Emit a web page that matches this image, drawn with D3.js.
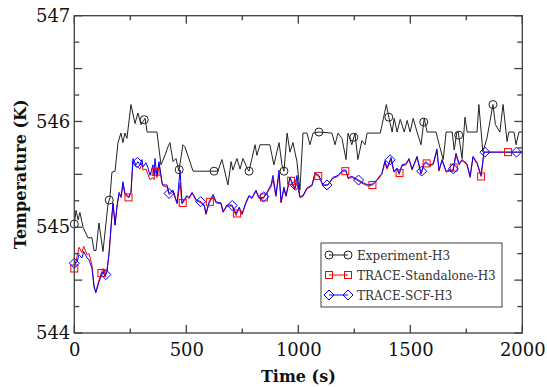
<!DOCTYPE html>
<html><head><meta charset="utf-8">
<script src="https://cdn.jsdelivr.net/npm/d3@7"></script>
<style>body{margin:0;background:#fff}svg{display:block}</style>
</head><body><svg id="c" width="547" height="387"></svg>
<script>
const seriesNames = ["Experiment-H3", "TRACE-Standalone-H3", "TRACE-SCF-H3"];
const xTicks = [0, 500, 1000, 1500, 2000];
const yTicks = [544, 545, 546, 547];

const experiment = [[0,545.03],[8,545.16],[17,545.07],[25,545.14],[39,545.00],[61,544.90],[79,544.90],[88,544.78],[97,544.78],[110,545.04],[128,544.77],[150,545.21],[159,545.28],[168,545.52],[182,545.53],[195,545.80],[208,545.89],[217,545.80],[226,545.89],[235,545.84],[253,546.16],[271,545.98],[284,546.08],[298,545.97],[316,546.03],[325,545.90],[369,545.90],[387,545.59],[405,545.68],[418,545.76],[427,545.80],[441,545.62],[454,545.65],[467,545.53],[485,545.78],[494,545.76],[530,545.53],[641,545.53],[659,545.64],[668,545.56],[686,545.40],[700,545.62],[708,545.54],[726,545.65],[740,545.55],[753,545.65],[771,545.56],[780,545.53],[793,545.65],[807,545.78],[815,545.68],[829,545.78],[873,545.78],[891,545.59],[914,545.80],[927,545.59],[936,545.53],[950,545.89],[963,545.71],[976,545.80],[994,545.62],[1007,545.35],[1021,545.89],[1039,545.89],[1052,545.78],[1066,545.89],[1092,545.90],[1150,545.89],[1164,545.78],[1177,545.89],[1195,545.84],[1213,545.64],[1222,545.89],[1239,545.78],[1253,545.89],[1266,545.64],[1284,545.82],[1298,545.78],[1307,545.89],[1366,545.89],[1393,546.16],[1405,546.03],[1419,545.90],[1428,546.03],[1441,545.90],[1455,546.02],[1473,545.90],[1486,546.01],[1499,545.90],[1513,546.03],[1530,545.90],[1548,545.78],[1562,546.03],[1575,545.90],[1615,545.90],[1629,545.78],[1647,545.64],[1660,545.90],[1687,545.90],[1696,545.73],[1708,545.90],[1714,545.90],[1731,545.65],[1744,546.04],[1754,545.90],[1798,545.90],[1806,546.16],[1824,545.71],[1842,545.84],[1869,546.16],[1880,545.97],[1900,545.90],[1914,546.16],[1932,545.81],[1940,545.90],[1963,545.90],[1972,545.78],[1985,545.90],[2000,545.90]];

const standalone = [[0,544.61],[12,544.72],[21,544.81],[34,544.76],[42,544.82],[57,544.74],[66,544.75],[79,544.64],[88,544.43],[96,544.39],[110,544.50],[128,544.61],[137,544.55],[146,544.60],[155,544.74],[168,545.10],[173,545.22],[182,545.02],[191,545.20],[200,545.31],[209,545.28],[217,545.40],[226,545.31],[235,545.29],[244,545.28],[253,545.33],[262,545.62],[275,545.57],[284,545.57],[293,545.55],[302,545.60],[307,545.54],[320,545.55],[329,545.50],[338,545.45],[351,545.47],[356,545.45],[360,545.55],[369,545.47],[378,545.60],[392,545.41],[396,545.39],[414,545.38],[423,545.31],[441,545.33],[459,545.22],[472,545.42],[481,545.22],[503,545.29],[512,545.27],[526,545.32],[544,545.25],[566,545.23],[580,545.20],[588,545.12],[602,545.23],[620,545.29],[633,545.23],[655,545.22],[664,545.14],[682,545.20],[704,545.20],[722,545.11],[736,545.18],[749,545.12],[767,545.23],[780,545.29],[793,545.27],[811,545.34],[825,545.27],[843,545.27],[860,545.32],[878,545.38],[887,545.45],[900,545.29],[914,545.50],[923,545.23],[936,545.36],[945,545.29],[963,545.47],[976,545.39],[985,545.36],[994,545.42],[1007,545.28],[1021,545.29],[1038,545.36],[1061,545.39],[1074,545.50],[1092,545.48],[1110,545.39],[1132,545.40],[1154,545.46],[1177,545.48],[1199,545.53],[1213,545.53],[1222,545.46],[1240,545.47],[1266,545.44],[1289,545.41],[1311,545.39],[1333,545.40],[1351,545.44],[1373,545.50],[1387,545.61],[1396,545.55],[1414,545.64],[1427,545.52],[1441,545.55],[1450,545.50],[1463,545.58],[1481,545.59],[1494,545.64],[1508,545.54],[1530,545.66],[1548,545.50],[1561,545.59],[1570,545.61],[1584,545.58],[1602,545.59],[1619,545.72],[1628,545.53],[1642,545.63],[1660,545.52],[1673,545.53],[1691,545.53],[1704,545.68],[1718,545.59],[1731,545.63],[1753,545.59],[1767,545.47],[1780,545.66],[1798,545.60],[1816,545.48],[1829,545.71],[2000,545.71]];

const scf = [[0,544.66],[12,544.67],[21,544.74],[34,544.71],[42,544.77],[57,544.71],[66,544.69],[79,544.61],[88,544.45],[96,544.38],[110,544.48],[128,544.58],[137,544.53],[146,544.58],[155,544.76],[168,545.12],[173,545.23],[182,545.02],[191,545.21],[200,545.33],[209,545.29],[217,545.43],[226,545.33],[235,545.30],[244,545.29],[253,545.33],[262,545.65],[275,545.59],[284,545.62],[293,545.59],[302,545.64],[307,545.57],[320,545.61],[329,545.56],[338,545.49],[351,545.59],[356,545.49],[360,545.65],[369,545.49],[378,545.62],[392,545.42],[396,545.40],[414,545.40],[423,545.32],[441,545.35],[459,545.23],[472,545.54],[481,545.23],[503,545.30],[512,545.28],[526,545.33],[544,545.26],[566,545.24],[580,545.21],[588,545.13],[602,545.24],[620,545.31],[633,545.24],[655,545.23],[664,545.15],[682,545.21],[704,545.21],[722,545.13],[736,545.19],[749,545.13],[767,545.24],[780,545.30],[793,545.28],[811,545.35],[825,545.28],[843,545.28],[860,545.33],[878,545.40],[887,545.49],[900,545.30],[914,545.54],[923,545.24],[936,545.38],[945,545.30],[963,545.47],[976,545.40],[985,545.37],[994,545.49],[1007,545.29],[1021,545.30],[1038,545.37],[1061,545.40],[1074,545.51],[1092,545.49],[1110,545.40],[1132,545.40],[1154,545.47],[1177,545.49],[1199,545.54],[1213,545.54],[1222,545.47],[1240,545.48],[1266,545.45],[1289,545.42],[1311,545.40],[1333,545.41],[1351,545.45],[1373,545.51],[1387,545.63],[1396,545.56],[1414,545.66],[1427,545.53],[1441,545.56],[1450,545.51],[1463,545.59],[1481,545.60],[1494,545.65],[1508,545.55],[1530,545.67],[1548,545.51],[1561,545.60],[1570,545.62],[1584,545.59],[1602,545.60],[1619,545.74],[1628,545.54],[1642,545.64],[1660,545.53],[1673,545.54],[1691,545.54],[1704,545.70],[1718,545.60],[1731,545.64],[1753,545.60],[1767,545.48],[1780,545.67],[1798,545.61],[1816,545.49],[1829,545.71],[2000,545.71]];

const expMarkerTimes = [0,156,312,468,624,780,936,1092,1248,1404,1560,1716,1869];
const saMarkerTimes = [0,121,242,363,484,605,726,847,968,1089,1210,1331,1452,1573,1694,1816,1936];
const scfMarkerTimes = [0,141,282,423,564,705,846,987,1128,1269,1410,1551,1692,1833,1974];

const svg = d3.select("#c");
const m = {l:74.3, r:522.3, t:15.7, b:333};
const x = d3.scaleLinear().domain([0,2000]).range([m.l, m.r]);
const y = d3.scaleLinear().domain([544,547]).range([m.b, m.t]);
const axisColor = "#404040";
const serif = "DejaVu Serif";

svg.append("defs").append("clipPath").attr("id","clip")
  .append("rect").attr("x",m.l).attr("y",m.t).attr("width",m.r-m.l).attr("height",m.b-m.t);

const line = d3.line().x(d=>x(d[0])).y(d=>y(d[1]));
function interp(data, t){
  const i = d3.bisector(d=>d[0]).left(data, t);
  if (i<=0) return data[0][1];
  if (i>=data.length) return data[data.length-1][1];
  const a=data[i-1], b=data[i];
  return a[1] + (b[1]-a[1])*(t-a[0])/(b[0]-a[0]);
}

const series = [
  {data: experiment, color:"#222", marks: expMarkerTimes, shape:"circle"},
  {data: standalone, color:"#ff0000", marks: saMarkerTimes, shape:"square"},
  {data: scf, color:"#0000ff", marks: scfMarkerTimes, shape:"diamond"}
];

function drawMarker(g, shape, cx, cy, color){
  if (shape==="circle") g.append("circle").attr("cx",cx).attr("cy",cy).attr("r",4)
      .attr("fill","none").attr("stroke",color).attr("stroke-width",1);
  else if (shape==="square") g.append("rect").attr("x",cx-3.5).attr("y",cy-3.5).attr("width",7).attr("height",7)
      .attr("fill","none").attr("stroke",color).attr("stroke-width",1);
  else g.append("path").attr("d",`M${cx-5},${cy}L${cx},${cy-5}L${cx+5},${cy}L${cx},${cy+5}Z`)
      .attr("fill","none").attr("stroke",color).attr("stroke-width",1);
}

const plot = svg.append("g").attr("clip-path","url(#clip)");
series.forEach(s=>{
  plot.append("path").datum(s.data).attr("d",line).attr("fill","none")
    .attr("stroke",s.color).attr("stroke-width",1).attr("stroke-linejoin","round");
});
series.forEach(s=>{
  const g = svg.append("g");
  s.marks.forEach(t=>drawMarker(g, s.shape, x(t), y(interp(s.data,t)), s.color));
});

// axes with inward ticks
const xMinor = d3.range(0, 2001, 250), yMinor = d3.range(544, 547.001, 0.25);
const frame = svg.append("g").attr("stroke",axisColor).attr("stroke-width",1.3);
xMinor.forEach(v=>{
  const L = (v%500===0)?8:4.5;
  frame.append("line").attr("x1",x(v)).attr("x2",x(v)).attr("y1",m.b).attr("y2",m.b-L);
  frame.append("line").attr("x1",x(v)).attr("x2",x(v)).attr("y1",m.t).attr("y2",m.t+L);
});
yMinor.forEach(v=>{
  const major = Math.abs(v*2-Math.round(v*2))<1e-6;
  const L = major?8:5;
  frame.append("line").attr("x1",m.l).attr("x2",m.l+L).attr("y1",y(v)).attr("y2",y(v));
  frame.append("line").attr("x1",m.r).attr("x2",m.r-L).attr("y1",y(v)).attr("y2",y(v));
});
frame.append("rect").attr("x",m.l).attr("y",m.t).attr("width",m.r-m.l).attr("height",m.b-m.t).attr("fill","none");

const xAxis = svg.append("g").attr("transform",`translate(0,${m.b})`)
  .call(d3.axisBottom(x).tickValues(xTicks).tickSize(0).tickPadding(10).tickFormat(d3.format("d")));
xAxis.select(".domain").remove();
xAxis.selectAll("text").attr("font-family",serif).attr("font-size",18).attr("fill","#111");
const yAxis = svg.append("g").attr("transform",`translate(${m.l},0)`)
  .call(d3.axisLeft(y).tickValues(yTicks).tickSize(0).tickPadding(4).tickFormat(d3.format("d")));
yAxis.select(".domain").remove();
yAxis.selectAll("text").attr("font-family",serif).attr("font-size",18).attr("fill","#111");

svg.append("text").attr("x",(m.l+m.r)/2).attr("y",382).attr("text-anchor","middle")
  .attr("font-family",serif).attr("font-weight","bold").attr("font-size",16).attr("fill","#111").text("Time (s)");
svg.append("text").attr("transform",`translate(26,${(m.t+m.b)/2}) rotate(-90)`).attr("text-anchor","middle")
  .attr("font-family",serif).attr("font-weight","bold").attr("font-size",16).attr("fill","#111").text("Temperature (K)");

// legend
const lg = svg.append("g");
lg.append("rect").attr("x",321).attr("y",243).attr("width",181).attr("height",64)
  .attr("fill","#fff").attr("stroke",axisColor).attr("stroke-width",1);
series.forEach((s,i)=>{
  const ly = 255 + i*20;
  lg.append("line").attr("x1",329).attr("x2",348).attr("y1",ly).attr("y2",ly).attr("stroke",s.color).attr("stroke-width",1);
  drawMarker(lg, s.shape, 329, ly, s.color);
  drawMarker(lg, s.shape, 348, ly, s.color);
  lg.append("text").attr("x",357).attr("y",ly+4.5).attr("font-family",serif).attr("font-size",12)
    .attr("fill","#333").text(seriesNames[i]);
});
</script></body></html>
